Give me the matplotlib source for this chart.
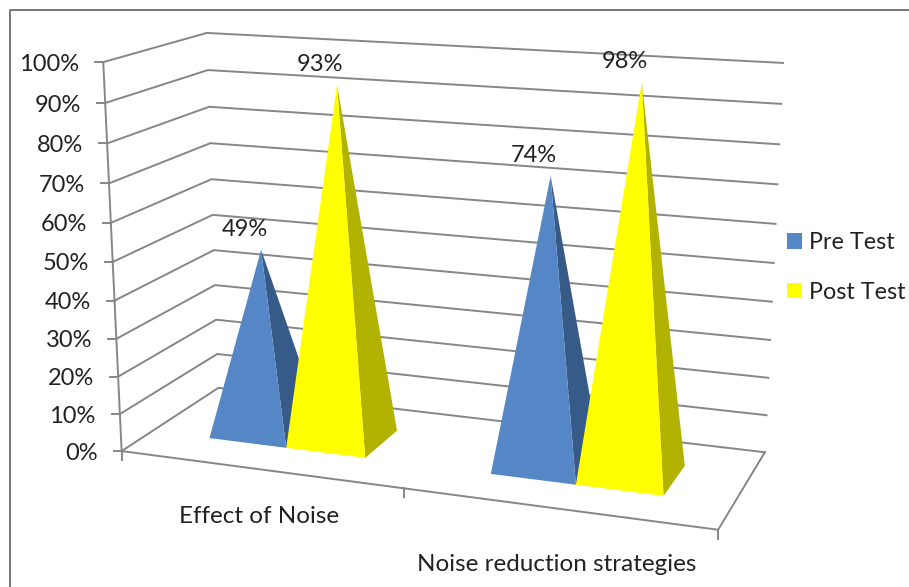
import numpy as np
import matplotlib
matplotlib.use('Agg')
import matplotlib.pyplot as plt
from matplotlib.patches import Polygon, Patch

plt.rcParams['font.family'] = ['Lato', 'DejaVu Sans']

## the data
categories = ['Effect of Noise', 'Noise reduction strategies']
series = ['Pre Test', 'Post Test']
pre_test = [49, 74]
post_test = [93, 98]
y_ticks = [0, 10, 20, 30, 40, 50, 60, 70, 80, 90, 100]

## colours
front_colors = ['#5586C6', '#FFFF00']
side_colors = ['#375B88', '#B2B200']
grid_color = '#868686'
text_color = '#222222'

## camera: fit a projection from box corners (u, depth, value) to pixels
box = [(0, 0, 0), (0, 0, 100), (0, 1, 0), (0, 1, 100),
       (2, 1, 0), (2, 1, 100), (2, 0, 0)]
pix = [(122, 451), (103, 62), (218, 388), (207, 33),
       (765, 452), (783, 63), (718, 530)]

rows = []
rhs = []
for (a, b, c), (px, py) in zip(box, pix):
    rows.append([a, b, c, 1, 0, 0, 0, 0, -px * a, -px * b, -px * c])
    rows.append([0, 0, 0, 0, a, b, c, 1, -py * a, -py * b, -py * c])
    rhs += [px, py]
cam = np.linalg.lstsq(np.array(rows, float), np.array(rhs, float), rcond=None)[0]
cam = np.append(cam, 1.0).reshape(3, 4)


def proj(u, d, v):
    p = cam @ np.array([u, d, v, 1.0])
    return p[0] / p[2], p[1] / p[2]


fig = plt.figure(figsize=(9.09, 5.87), dpi=100)
ax = fig.add_axes([0, 0, 1, 1])
ax.set_xlim(0, 909)
ax.set_ylim(587, 0)
ax.axis('off')

# outer chart border, runs off the picture on the right and bottom
ax.plot([10, 10, 909], [587, 10, 10], color='#777777', lw=1.4, zorder=1)

# walls and floor
for v in y_ticks:
    pts = [proj(0, 0, v), proj(0, 1, v), proj(2, 1, v)]
    ax.plot(*zip(*pts), color=grid_color, lw=1.4, zorder=2)
    x0, y0 = pts[0]
    ax.plot([x0 - 8, x0], [y0, y0], color=grid_color, lw=1.4, zorder=2)
    ax.text(x0 - 24, y0 + 2, '%d%%' % v, ha='right', va='center', fontsize=17,
            color=text_color)

ax.plot(*zip(proj(0, 0, 0), proj(0, 0, 100)), color=grid_color, lw=1.4, zorder=2)
ax.plot(*zip(proj(0, 0, 0), proj(2, 0, 0), proj(2, 1, 0)), color=grid_color,
        lw=1.4, zorder=2)
for u in range(len(categories) + 1):
    x0, y0 = proj(u, 0, 0)
    ax.plot([x0, x0], [y0, y0 + 9], color=grid_color, lw=1.4, zorder=2)

# the pyramids
left_gap = 0.215
width = 0.283
d_front = 0.30
d_back = 0.70
for i, cat in enumerate(categories):
    for j, vals in enumerate((pre_test, post_test)):
        u0 = i + left_gap + j * width
        u1 = u0 + width
        top = proj((u0 + u1) / 2, (d_front + d_back) / 2, vals[i])
        fl = proj(u0, d_front, 0)
        fr = proj(u1, d_front, 0)
        br = proj(u1, d_back, 0)
        z = 3 + j
        ax.add_patch(Polygon([fr, br, top], closed=True, fc=side_colors[j],
                             ec='none', zorder=z))
        ax.add_patch(Polygon([fl, fr, top], closed=True, fc=front_colors[j],
                             ec='none', zorder=z))
        ax.annotate('%d%%' % vals[i], xy=top, xytext=(-12, 14.5),
                    textcoords='offset points', ha='center', va='center',
                    fontsize=17, color=text_color, zorder=6)

    x0, y0 = proj(i + 0.5, 0, 0)
    ax.text(x0, y0 + 47 + 9 * i, cat, ha='center', va='center', fontsize=17.5,
            color=text_color)

handles = [Patch(fc=c, ec='none') for c in front_colors]
ax.legend(handles, series, loc='upper left', bbox_to_anchor=(778, 223),
          bbox_transform=ax.transData, frameon=False, fontsize=16.8,
          labelcolor=text_color, handlelength=0.64, handleheight=0.64,
          handletextpad=0.3, labelspacing=1.22, borderpad=0.4, borderaxespad=0)

fig.savefig('out.png', dpi=100)
